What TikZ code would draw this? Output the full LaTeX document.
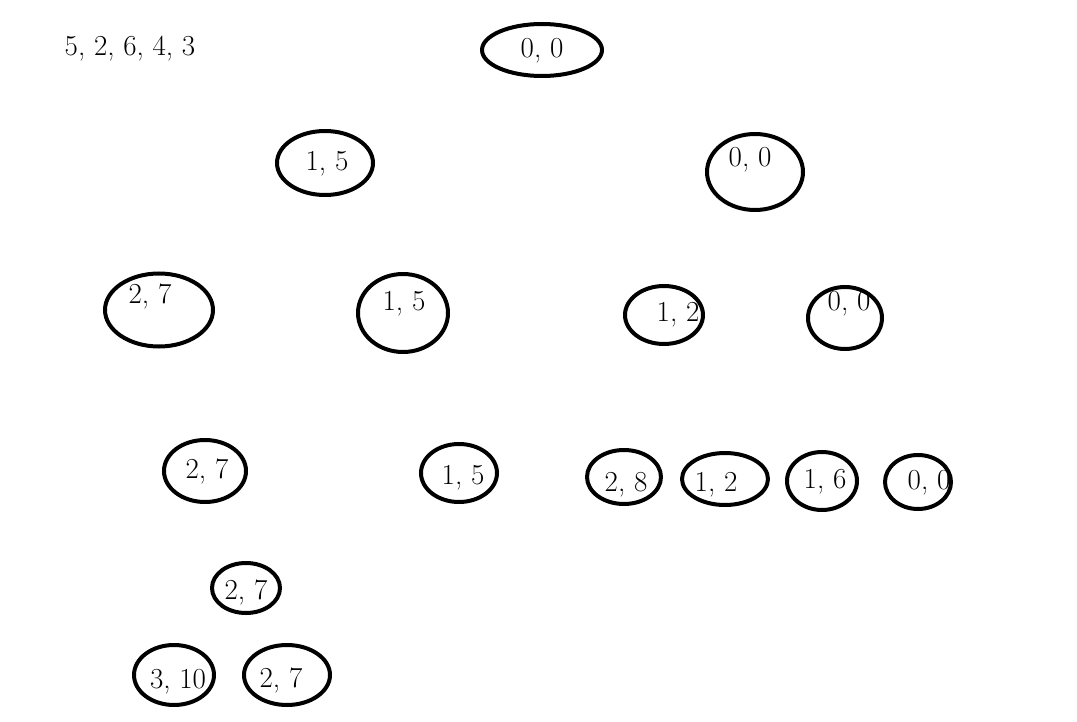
\documentclass[tikz,border=0pt]{standalone}
\usetikzlibrary{shapes.geometric}
\begin{document}
\begin{tikzpicture}[x=1pt,y=-1pt,
  ring/.style={draw=black,line width=4pt,ellipse,inner sep=0pt},
  lbl/.style={anchor=base,inner sep=0pt,font=\fontsize{29}{33}\selectfont}]
\useasboundingbox[fill=white] (0,0) rectangle (1077,722);
\node[lbl] (seq) at (130,56) {5, 2, 6, 4, 3};
% ellipses: center, width, height
\node[ring,minimum width=120pt,minimum height=52pt] (e1) at (542,50) {};
\node[ring,minimum width=96pt,minimum height=64pt] (e2) at (325,163) {};
\node[ring,minimum width=96pt,minimum height=76pt] (e3) at (755,172) {};
\node[ring,minimum width=108pt,minimum height=73pt] (e4) at (159,310) {};
\node[ring,minimum width=90pt,minimum height=78pt] (e5) at (403,313) {};
\node[ring,minimum width=78pt,minimum height=58pt] (e6) at (664,315) {};
\node[ring,minimum width=74pt,minimum height=62pt] (e7) at (845,318) {};
\node[ring,minimum width=82pt,minimum height=62pt] (e8) at (205,471) {};
\node[ring,minimum width=76pt,minimum height=58pt] (e9) at (459,473) {};
\node[ring,minimum width=74pt,minimum height=54pt] (e10) at (624,477) {};
\node[ring,minimum width=86pt,minimum height=52pt] (e11) at (725,479) {};
\node[ring,minimum width=70pt,minimum height=58pt] (e12) at (822,481) {};
\node[ring,minimum width=66pt,minimum height=54pt] (e13) at (918,482) {};
\node[ring,minimum width=68pt,minimum height=50pt] (e14) at (246,588) {};
\node[ring,minimum width=80pt,minimum height=60pt] (e15) at (174,675) {};
\node[ring,minimum width=86pt,minimum height=60pt] (e16) at (287,675) {};
% labels
\node[lbl] (t1) at (542,58) {0, 0};
\node[lbl] (t2) at (327,171) {1, 5};
\node[lbl] (t3) at (750,167) {0, 0};
\node[lbl] (t4) at (150,304) {2, 7};
\node[lbl] (t5) at (404,310) {1, 5};
\node[lbl] (t6) at (678,322) {1, 2};
\node[lbl] (t7) at (849,311) {0, 0};
\node[lbl] (t8) at (207,478) {2, 7};
\node[lbl] (t9) at (463,484) {1, 5};
\node[lbl] (t10) at (626,491) {2, 8};
\node[lbl] (t11) at (716,491) {1, 2};
\node[lbl] (t12) at (825,488) {1, 6};
\node[lbl] (t13) at (929,489) {0, 0};
\node[lbl] (t14) at (246,599) {2, 7};
\node[lbl] (t15) at (178,688) {3, 10};
\node[lbl] (t16) at (281,687) {2, 7};
\end{tikzpicture}
\end{document}
